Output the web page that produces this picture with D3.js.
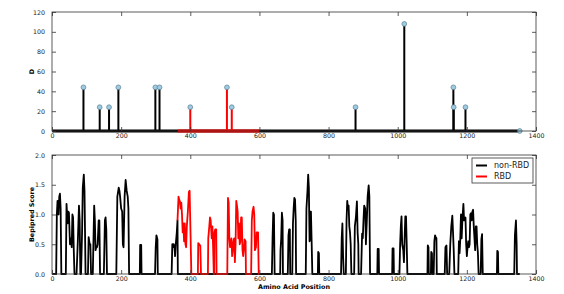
<!DOCTYPE html>
<html>
<head>
<meta charset="utf-8">
<script src="https://cdn.jsdelivr.net/npm/d3@7"></script>
<style>
body { margin: 0; background: #fff; }
text { font-family: "DejaVu Sans", sans-serif; }
</style>
</head>
<body>
<div id="chart"></div>
<script>
var w = 564;
var h = 294;

// protein length and receptor binding domain span
var seqLength = 1353;
var rbdRange = [364, 600];

// top panel: stems
var stemPos = [91, 138, 165, 192, 299, 311, 400, 506, 520, 878, 1019, 1161, 1162, 1196];
var stemD = [44, 24, 24, 44, 44, 44, 24, 44, 24, 24, 108, 44, 24, 24];

// bottom panel: bepipred profile [position, score]
var nonRbdProfile = [
	[1,0],
	[12,0],[14,1.0],[16,1.23],[19,1.0],[21,1.3],[23,1.35],[25,1.1],[27,0],
	[40,0],[42,1.18],[45,0.85],[47,1.05],[49,1.03],[52,0.5],[55,0.6],[57,0.45],[59,1.0],[61,0.95],[63,0.4],[65,0],
	[71,0],[75,0.6],[78,1.15],[80,0.9],[82,0],
	[84,0],[87,0.7],[89,1.45],[92,1.67],[94,1.4],[96,0.5],[97,0],
	[104,0],[106,0.62],[109,0.5],[111,0.5],[113,0],
	[118,0],[122,1.15],[124,0.9],[126,0.4],[128,0.45],[130,0.45],[132,0.5],[135,0.9],[137,0.9],[139,0],
	[150,0],[153,0.9],[155,0.95],[157,0.75],[159,0],
	[186,0],[189,1.3],[193,1.45],[195,1.4],[197,1.3],[200,1.1],[203,1.05],[205,0.5],[207,0.45],[210,1.3],[213,1.58],[216,1.4],[219,1.3],[221,1.1],[223,0],
	[254,0],[255,0.49],[258,0.49],[259,0],
	[298,0],[300,0.45],[302,0.65],[305,0.58],[306,0],
	[346,0],[348,0.5],[350,0.45],[352,0.5],[354,0.47],[356,0.3],[358,0.5],[361,0.7],[363,0.9],[364,0],
	[636,0],[638,0.6],[640,1.03],[642,1.0],[644,0],
	[660,0],[661,0.4],[663,0.6],[665,1.03],[667,0.9],[668,0],
	[682,0],[684,0.65],[686,0.75],[688,0.75],[689,0],
	[695,0],[697,0.85],[699,1.1],[701,1.28],[703,1.25],[705,0.9],[706,0],
	[734,0],[736,1.1],[739,1.4],[741,1.67],[743,1.45],[745,0.55],[747,0.6],[749,1.05],[751,0.55],[753,0],
	[769,0],[770,0.37],[772,0.35],[773,0],
	[836,0],[838,0.6],[840,0.85],[842,0.3],[844,0],[850,0],[852,0.9],[854,1.23],[856,1.1],[858,1.15],[860,0.8],[862,0.7],[864,0.5],[866,0],
	[874,0],[876,0.8],[879,0.95],[882,1.22],[884,0.7],[886,0.5],[887,0],
	[894,0],[897,0.68],[899,0.6],[901,0.9],[903,1.15],[906,1.1],[908,0.5],[911,0.95],[913,1.3],[916,1.49],[918,1.3],[920,0],
	[941,0],[942,0.42],[945,0.42],[946,0],
	[984,0],[985,0.43],[988,0.43],[989,0],
	[1005,0],[1007,0.5],[1009,0.8],[1011,0.97],[1013,0.5],[1016,0.4],[1018,0.2],[1020,0.6],[1022,0.97],[1024,0.97],[1026,0.5],[1028,0],
	[1086,0],[1087,0.48],[1089,0.45],[1090,0],
	[1096,0],[1097,0.37],[1099,0.35],[1100,0],
	[1104,0],[1106,0.55],[1108,0.65],[1110,0.62],[1112,0.6],[1113,0],
	[1136,0],[1138,0.45],[1141,0.48],[1143,0],
	[1149,0],[1152,0.5],[1155,0.8],[1158,0.98],[1160,0.7],[1162,0.4],[1164,0],
	[1175,0],[1177,0.55],[1179,0.35],[1181,0.6],[1183,1.0],[1185,0.6],[1187,0.9],[1190,1.18],[1192,0.9],[1194,0.92],[1196,0.95],[1198,0.5],[1200,0.3],[1202,0.45],[1204,0.55],[1206,0.45],[1208,0.5],[1210,1.0],[1212,1.02],[1214,0.9],[1216,1.05],[1218,1.08],[1220,0.8],[1222,0.6],[1224,0.4],[1226,0.8],[1228,0.8],[1230,0.5],[1232,0.35],[1234,0],
	[1240,0],[1242,0.58],[1244,0.67],[1246,0],
	[1287,0],[1288,0.39],[1290,0.37],[1291,0],
	[1337,0],[1339,0.65],[1342,0.9],[1344,0.5],[1345,0],
	[1353,0]
];

var rbdProfile = [
	[363,0.9],[366,1.3],[368,1.25],[370,1.22],[372,1.1],[374,1.2],[376,1.0],[378,0.7],[380,0.85],[382,0.55],[384,0.85],[386,0.5],[388,0.45],[390,0.8],[393,1.05],[396,1.38],[398,1.4],[401,0.6],[403,0],
	[422,0],[423,0.52],[426,0.5],[429,0.47],[431,0],
	[451,0],[452,0.6],[455,0.8],[457,0.95],[459,0.9],[462,0.6],[464,0.8],[466,0.45],[468,0],[469,0],[470,0.7],[472,0.75],[475,0.75],[476,0],
	[507,0],[509,1.28],[511,1.2],[513,0.6],[515,0.45],[517,0.5],[519,0.6],[521,0.3],[523,0.4],[525,0.55],[527,0.6],[529,0.2],[531,0.5],[533,1.23],[535,1.15],[537,1.05],[539,0.6],[541,0.85],[543,0.5],[545,0.55],[547,0.95],[549,0.95],[551,0.4],[553,0.3],[555,0.4],[557,0.58],[560,0.55],[561,0],
	[576,0],[578,0.9],[580,1.05],[583,1.13],[585,1.0],[587,0.4],[590,0.45],[592,0.7],[596,0.7],[598,0],[600,0]
];

var xTicks = [0, 200, 400, 600, 800, 1000, 1200, 1400];
var dTicks = [0, 20, 40, 60, 80, 100, 120];
var scoreTicks = [0, 0.5, 1.0, 1.5, 2.0];
var legendLabels = ["non-RBD", "RBD"];
var seriesColors = ["#000000", "#ff0000"];

var x = d3.scaleLinear().domain([0, 1400]).range([52, 536]);
var yTop = d3.scaleLinear().domain([0, 120]).range([131, 12]);
var yBot = d3.scaleLinear().domain([0, 2]).range([274, 155]);

var svg = d3.select("#chart")
			.append("svg")
			.attr("width", w)
			.attr("height", h);

function inRbd(p) {
	return p >= rbdRange[0] && p <= rbdRange[1];
}

// axes frame with inward ticks on all four sides
function frame(y, yTicks, fmt) {
	var g = svg.append("g");
	var r = y.range();
	g.append("g")
		.attr("transform", "translate(0," + r[0] + ")")
		.call(d3.axisBottom(x).tickValues(xTicks).tickSize(-4).tickPadding(2.5).tickFormat(d3.format("d")));
	g.append("g")
		.attr("transform", "translate(0," + r[1] + ")")
		.call(d3.axisTop(x).tickValues(xTicks).tickSize(-4).tickFormat(""));
	g.append("g")
		.attr("transform", "translate(" + x.range()[0] + ",0)")
		.call(d3.axisLeft(y).tickValues(yTicks).tickSize(-4).tickPadding(7).tickFormat(fmt));
	g.append("g")
		.attr("transform", "translate(" + x.range()[1] + ",0)")
		.call(d3.axisRight(y).tickValues(yTicks).tickSize(-4).tickFormat(""));
	g.selectAll(".domain").remove();
	g.selectAll(".tick line").attr("stroke", "#333").attr("stroke-width", 0.8);
	g.selectAll(".tick text").attr("font-size", 6.3).attr("fill", "#222").attr("font-family", "DejaVu Sans");
	g.append("rect")
		.attr("x", x.range()[0])
		.attr("y", r[1])
		.attr("width", x.range()[1] - x.range()[0])
		.attr("height", r[0] - r[1])
		.attr("fill", "none")
		.attr("stroke", "#333")
		.attr("stroke-width", 0.8);
}

// ---- top panel ----
svg.append("line")
	.attr("x1", x(1)).attr("x2", x(seqLength))
	.attr("y1", yTop(0)).attr("y2", yTop(0))
	.attr("stroke", "#000").attr("stroke-width", 3);
svg.append("line")
	.attr("x1", x(rbdRange[0])).attr("x2", x(rbdRange[1]))
	.attr("y1", yTop(0)).attr("y2", yTop(0))
	.attr("stroke", "#ff0000").attr("stroke-width", 3);

var stems = svg.selectAll("g.stem")
				.data(stemPos)
				.enter()
				.append("g")
				.attr("class", "stem");

stems.append("line")
	.attr("x1", function(d) { return x(d); })
	.attr("x2", function(d) { return x(d); })
	.attr("y1", yTop(0))
	.attr("y2", function(d, i) { return yTop(stemD[i]); })
	.attr("stroke", function(d) { return inRbd(d) ? seriesColors[1] : seriesColors[0]; })
	.attr("stroke-width", 2);

stems.append("circle")
	.attr("cx", function(d) { return x(d); })
	.attr("cy", function(d, i) { return yTop(stemD[i]); })
	.attr("r", 2.4)
	.attr("fill", "#9ccbe3")
	.attr("stroke", "#5d7f91")
	.attr("stroke-width", 0.7);

svg.append("circle")
	.attr("cx", x(seqLength))
	.attr("cy", yTop(0))
	.attr("r", 2.4)
	.attr("fill", "#9ccbe3")
	.attr("stroke", "#5d7f91")
	.attr("stroke-width", 0.7);

frame(yTop, dTicks, d3.format("d"));

// ---- bottom panel ----
var line = d3.line()
			.x(function(d) { return x(d[0]); })
			.y(function(d) { return yBot(d[1]); });

svg.append("path")
	.datum(nonRbdProfile)
	.attr("d", line)
	.attr("fill", "none")
	.attr("stroke", seriesColors[0])
	.attr("stroke-width", 1.8)
	.attr("stroke-linejoin", "round");

svg.append("path")
	.datum(rbdProfile)
	.attr("d", line)
	.attr("fill", "none")
	.attr("stroke", seriesColors[1])
	.attr("stroke-width", 1.8)
	.attr("stroke-linejoin", "round");

frame(yBot, scoreTicks, d3.format(".1f"));

// axis titles
svg.append("text")
	.attr("transform", "translate(32," + (yTop.range()[0] + yTop.range()[1]) / 2 + ") rotate(-90)")
	.attr("text-anchor", "middle")
	.attr("dy", "0.35em")
	.attr("font-size", 6.4)
	.attr("font-weight", "bold")
	.text("D");

svg.append("text")
	.attr("transform", "translate(32," + (yBot.range()[0] + yBot.range()[1]) / 2 + ") rotate(-90)")
	.attr("text-anchor", "middle")
	.attr("dy", "0.35em")
	.attr("font-size", 6.4)
	.attr("font-weight", "bold")
	.text("Bepipred Score");

svg.append("text")
	.attr("x", (x.range()[0] + x.range()[1]) / 2)
	.attr("y", 288.5)
	.attr("text-anchor", "middle")
	.attr("font-size", 6.4)
	.attr("font-weight", "bold")
	.text("Amino Acid Position");

// legend
var legend = svg.append("g").attr("transform", "translate(472,158)");
legend.append("rect")
	.attr("width", 61)
	.attr("height", 25)
	.attr("fill", "#fff")
	.attr("stroke", "#333")
	.attr("stroke-width", 0.8);

var items = legend.selectAll("g.item")
				.data(legendLabels)
				.enter()
				.append("g")
				.attr("class", "item")
				.attr("transform", function(d, i) { return "translate(0," + (7.5 + i * 11) + ")"; });

items.append("line")
	.attr("x1", 4).attr("x2", 15)
	.attr("stroke", function(d, i) { return seriesColors[i]; })
	.attr("stroke-width", 2);

items.append("text")
	.attr("x", 22)
	.attr("dy", "0.35em")
	.attr("font-size", 8)
	.attr("fill", "#222")
	.text(function(d) { return d; });
</script>
</body>
</html>
